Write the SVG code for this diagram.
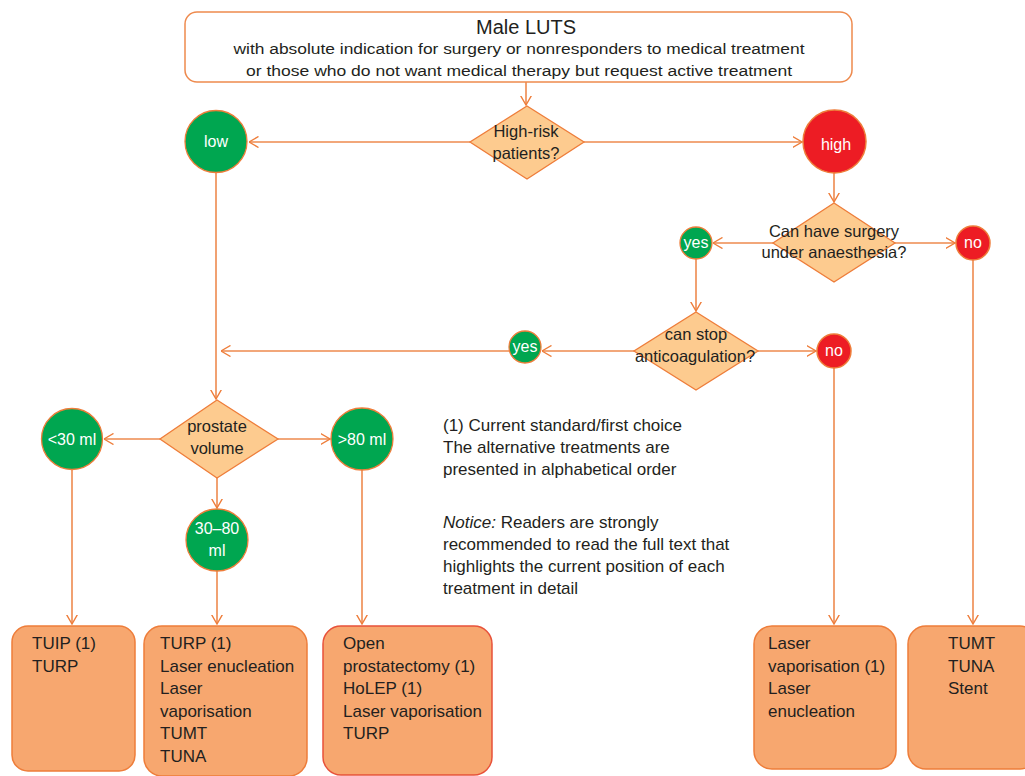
<svg xmlns="http://www.w3.org/2000/svg" width="1025" height="776" viewBox="0 0 1025 776">
<defs>
<style>
.t{font-family:"Liberation Sans",Arial,sans-serif;fill:#231F20;font-size:16px}
.d{font-size:16.5px}
.bx{font-size:17px}
.lg{font-size:17px}
.c{text-anchor:middle}
.w{fill:#fff}
.dia{fill:#FDCB8F;stroke:#EE7D3A;stroke-width:1.3}
.g{fill:#00A650;stroke:#EE7D3A;stroke-width:1.3}
.r{fill:#ED1C24;stroke:#EE7D3A;stroke-width:1.5}
.box{fill:#F7A76F;stroke:#EE7D3A;stroke-width:1.5}
.ln{fill:none;stroke:#EE8A4E;stroke-width:1.6}
</style>
<marker id="a" viewBox="0 0 10 12" refX="9.5" refY="6" markerWidth="10" markerHeight="12" markerUnits="userSpaceOnUse" orient="auto">
<path d="M0,0.5 L9.5,6 L0,11.5" fill="none" stroke="#EE7D3A" stroke-width="1.4"/>
</marker>
</defs>
<rect width="1025" height="776" fill="#fff"/>
<g id="connectors" class="ln" marker-end="url(#a)">
<path d="M526,82 V105"/>
<path d="M470,142 H249"/>
<path d="M584,142 H802"/>
<path d="M834,173 V202"/>
<path d="M773,243 H713"/>
<path d="M895,243 H955"/>
<path d="M973,260 V624"/>
<path d="M696,259 V311"/>
<path d="M758,351 H816"/>
<path d="M834,368 V624"/>
<path d="M634,351 H542"/>
<path d="M509,351 H221"/>
<path d="M216,172 V399"/>
<path d="M160,439 H104"/>
<path d="M278,439 H330"/>
<path d="M217,478 V508"/>
<path d="M72,470 V624"/>
<path d="M217,571 V624"/>
<path d="M362,470 V624"/>
</g>
<g id="start">
<rect x="185" y="12" width="667" height="70" rx="12" fill="#fff" stroke="#EE8A4E" stroke-width="1.5"/>
<text class="t c" x="526" y="34" style="font-size:20px">Male LUTS</text>
<text class="t c" x="519" y="54" style="font-size:15.5px" textLength="571" lengthAdjust="spacingAndGlyphs">with absolute indication for surgery or nonresponders to medical treatment</text>
<text class="t c" x="519" y="76" style="font-size:15.5px" textLength="546" lengthAdjust="spacingAndGlyphs">or those who do not want medical therapy but request active treatment</text>
</g>
<g id="q-risk">
<polygon class="dia" points="527,106 584,142 527,179 470,142"/>
<text class="t d c" x="526" y="137">High-risk</text>
<text class="t d c" x="526" y="159">patients?</text>
</g>
<g id="low">
<circle class="g" cx="216" cy="141.5" r="31"/>
<text class="t c w" x="216" y="147">low</text>
</g>
<g id="high">
<circle class="r" cx="834.5" cy="141.5" r="31.5"/>
<text class="t c w" x="836" y="150">high</text>
</g>
<g id="q-surgery">
<polygon class="dia" points="834,203 895,243 834,282 773,243"/>
<text class="t d c" x="834" y="237">Can have surgery</text>
<text class="t d c" x="834" y="258">under anaesthesia?</text>
</g>
<g id="yes1">
<circle class="g" cx="696" cy="243" r="16"/>
<text class="t c w" x="696" y="248">yes</text>
</g>
<g id="no1">
<circle class="r" cx="973" cy="243" r="17"/>
<text class="t c w" x="973" y="248">no</text>
</g>
<g id="q-anticoag">
<polygon class="dia" points="696,312 758,351 696,390 634,351"/>
<text class="t d c" x="696" y="340">can stop</text>
<text class="t d c" x="695" y="362">anticoagulation?</text>
</g>
<g id="no2">
<circle class="r" cx="834" cy="351" r="17"/>
<text class="t c w" x="834" y="356">no</text>
</g>
<g id="yes2">
<circle class="g" cx="525" cy="347" r="16"/>
<text class="t c w" x="525" y="352">yes</text>
</g>
<g id="q-volume">
<polygon class="dia" points="217,400 278,439 217,478 160,439"/>
<text class="t d c" x="217" y="432">prostate</text>
<text class="t d c" x="217" y="454">volume</text>
</g>
<g id="lt30">
<circle class="g" cx="72" cy="439" r="30.5"/>
<text class="t c w" x="72" y="444.5">&lt;30 ml</text>
</g>
<g id="gt80">
<circle class="g" cx="362" cy="439" r="31"/>
<text class="t c w" x="362" y="444.5">&gt;80 ml</text>
</g>
<g id="mid">
<circle class="g" cx="217" cy="540" r="31"/>
<text class="t c w" x="217" y="534">30–80</text>
<text class="t c w" x="217" y="556">ml</text>
</g>
<g id="box1">
<rect class="box" x="12" y="626" width="123" height="145" rx="16"/>
<text class="t bx" x="32" y="649">TUIP (1)</text>
<text class="t bx" x="32" y="671.5">TURP</text>
</g>
<g id="box2">
<rect class="box" x="144" y="626" width="163" height="150" rx="18"/>
<text class="t bx" x="160" y="649">TURP (1)</text>
<text class="t bx" x="160" y="671.5">Laser enucleation</text>
<text class="t bx" x="160" y="694">Laser</text>
<text class="t bx" x="160" y="716.5">vaporisation</text>
<text class="t bx" x="160" y="739">TUMT</text>
<text class="t bx" x="160" y="761.5">TUNA</text>
</g>
<g id="box3">
<rect class="box" x="323" y="626" width="169" height="149" rx="18" style="stroke:#E8523A"/>
<text class="t bx" x="343" y="649">Open</text>
<text class="t bx" x="343" y="671.5">prostatectomy (1)</text>
<text class="t bx" x="343" y="694">HoLEP (1)</text>
<text class="t bx" x="343" y="716.5">Laser vaporisation</text>
<text class="t bx" x="343" y="739">TURP</text>
</g>
<g id="box4">
<rect class="box" x="754" y="626" width="142" height="143" rx="18"/>
<text class="t bx" x="768" y="649">Laser</text>
<text class="t bx" x="768" y="671.5">vaporisation (1)</text>
<text class="t bx" x="768" y="694">Laser</text>
<text class="t bx" x="768" y="716.5">enucleation</text>
</g>
<g id="box5">
<rect class="box" x="908" y="626" width="130" height="143" rx="18"/>
<text class="t bx" x="948" y="649">TUMT</text>
<text class="t bx" x="948" y="671.5">TUNA</text>
<text class="t bx" x="948" y="694">Stent</text>
</g>
<g id="legend">
<text class="t lg" x="443" y="431">(1) Current standard/first choice</text>
<text class="t lg" x="443" y="453">The alternative treatments are</text>
<text class="t lg" x="443" y="475">presented in alphabetical order</text>
<text class="t lg" x="443" y="528"><tspan font-style="italic">Notice:</tspan> Readers are strongly</text>
<text class="t lg" x="443" y="550">recommended to read the full text that</text>
<text class="t lg" x="443" y="572">highlights the current position of each</text>
<text class="t lg" x="443" y="594">treatment in detail</text>
</g>
</svg>
